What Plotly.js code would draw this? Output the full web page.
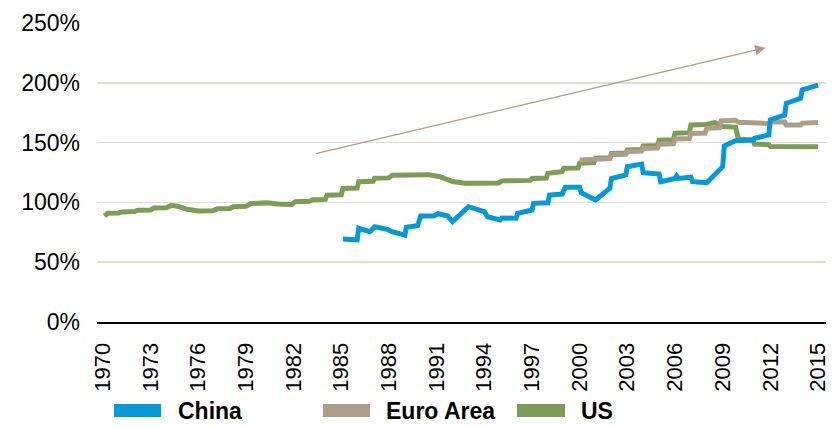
<!DOCTYPE html>
<html>
<head>
<meta charset="utf-8">
<script src="https://cdn.plot.ly/plotly-3.0.1.min.js"></script>
<style>
html,body{margin:0;padding:0;background:#fff;}
#chart{width:834px;height:427px;}
</style>
</head>
<body>
<div id="chart"></div>
<script>
// ---- data ----
const seriesNames = ["China", "Euro Area", "US"];

const usYears = [1970.1,1970.3,1971.0,1971.2,1972.0,1972.2,1973.0,1973.2,1974.0,1974.3,1974.8,1975.3,1976.0,1976.9,1977.2,1978.0,1978.2,1979.0,1979.3,1980.3,1981.0,1981.9,1982.1,1983.0,1983.2,1984.0,1984.1,1985.0,1985.1,1986.0,1986.1,1987.0,1987.1,1988.0,1988.2,1989.7,1990.5,1991.2,1992.0,1992.8,1994.9,1995.1,1996.9,1997.0,1997.9,1998.0,1998.9,1999.0,1999.9,2000.0,2000.9,2001.0,2001.9,2002.0,2002.9,2003.0,2003.9,2004.0,2004.9,2005.0,2005.9,2006.0,2006.9,2007.0,2008.0,2008.5,2009.0,2009.8,2009.9,2010.0,2010.9,2011.0,2011.9,2012.0,2015.0];
const usValues = [88.6,90.9,91.2,92.0,92.3,93.4,93.6,95.3,95.6,97.5,96.5,94.2,92.8,93.0,94.6,94.9,96.4,96.7,99.0,99.6,98.6,98.3,100.6,100.9,102.2,102.5,106.0,106.3,111.6,112.0,117.3,117.6,120.2,120.5,122.8,123.6,123.2,121.5,117.5,116.0,116.3,118.0,118.4,120.0,120.4,124.3,125.7,128.5,128.8,132.7,133.2,136.9,137.3,141.0,141.4,143.8,144.3,147.2,147.6,152.0,152.4,157.8,158.3,164.8,165.2,166.7,163.5,163.0,155.0,152.7,152.2,148.8,148.3,146.8,146.6];

const euroYears = [2000.0,2000.8,2000.9,2001.9,2002.0,2002.9,2003.0,2003.9,2004.0,2004.9,2005.0,2005.9,2006.0,2006.9,2007.0,2007.9,2008.0,2008.8,2008.9,2009.8,2010.0,2010.9,2011.0,2011.9,2012.0,2012.9,2013.0,2013.9,2014.0,2015.0];
const euroValues = [135.4,135.6,136.3,136.6,139.8,140.2,142.6,143.0,145.0,145.4,148.6,149.0,153.0,153.4,157.6,158.0,162.0,162.4,168.2,168.6,167.0,166.8,166.0,166.0,167.4,167.2,164.7,164.7,166.2,166.8];

const chinaYears = [1985.1,1986.0,1986.1,1986.8,1987.1,1987.9,1988.2,1989.0,1989.1,1989.8,1990.0,1990.8,1991.1,1991.7,1992.0,1993.0,1994.0,1994.2,1995.0,1995.1,1996.0,1996.1,1997.0,1997.1,1998.0,1998.1,1998.9,1999.1,2000.0,2000.1,2001.0,2001.9,2002.0,2002.9,2003.0,2003.9,2004.0,2005.0,2005.1,2006.0,2006.1,2006.2,2007.0,2007.1,2008.0,2009.0,2009.1,2009.8,2010.9,2011.0,2011.9,2012.0,2012.9,2013.0,2013.9,2014.0,2015.0];
const chinaValues = [69.4,68.6,78.3,75.5,79.7,77.5,75.5,72.7,79.2,80.5,88.6,88.6,90.5,88.6,84.0,96.4,92.2,88.0,85.3,87.0,86.7,90.9,93.6,99.2,99.7,106.2,107.0,112.6,112.6,108.0,102.0,111.8,120.0,122.9,129.8,132.0,124.8,123.7,117.3,120.0,122.0,120.0,121.0,117.3,116.5,129.8,147.2,151.6,152.2,153.6,156.4,169.0,173.0,182.9,187.0,194.0,198.0];

const tickYears = [1970,1973,1976,1979,1982,1985,1988,1991,1994,1997,2000,2003,2006,2009,2012,2015];
const yTicks = [0,50,100,150,200,250];

// ---- styling ----
const colors = {"China":"#0798d8","Euro Area":"#ad9e8c","US":"#7c9c57"};
const FONT = "Liberation Sans, Arial, sans-serif";

const traces = [
  {x: usYears, y: usValues, name: "US", type: "scatter", mode: "lines",
   line: {color: colors["US"], width: 5}},
  {x: euroYears, y: euroValues, name: "Euro Area", type: "scatter", mode: "lines",
   line: {color: colors["Euro Area"], width: 5}},
  {x: chinaYears, y: chinaValues, name: "China", type: "scatter", mode: "lines",
   line: {color: colors["China"], width: 5}}
];

// manual legend (paper coords, plot width 729px)
const legendX = {"China":[0.0233,0.0878,0.1084], "Euro Area":[0.3100,0.3745,0.3937], "US":[0.5761,0.6420,0.6612]};
const shapes = [];
const annotations = [];
seriesNames.forEach(n => {
  const p = legendX[n];
  shapes.push({type:"rect", xref:"paper", yref:"paper", x0:p[0], x1:p[1], y0:-0.3177, y1:-0.2742,
    fillcolor: colors[n], line:{width:0}});
  annotations.push({xref:"paper", yref:"paper", x:p[2], y:-0.2977, xanchor:"left", yanchor:"middle",
    text:"<b>"+n+"</b>", showarrow:false, font:{family:FONT, size:23, color:"#000"}});
});
// trend arrow
annotations.push({x:2011.7, y:229.3, ax:1983.3, ay:140.5, xref:"x", yref:"y", axref:"x", ayref:"y",
  text:"", showarrow:true, arrowhead:2, arrowsize:1.6, arrowwidth:1.3, arrowcolor:"#ab9c8a"});

const layout = {
  width: 834, height: 427,
  margin: {l: 97, r: 8, t: 23, b: 105, pad: 0},
  paper_bgcolor: "#fff", plot_bgcolor: "#fff",
  showlegend: false,
  font: {family: FONT, size: 23, color: "#000"},
  xaxis: {
    range: [1969.63, 2015.5],
    tickmode: "array", tickvals: tickYears, ticktext: tickYears.map(String),
    tickangle: -90, ticks: "", showgrid: false, zeroline: false,
    showline: true, linecolor: "#000", linewidth: 2,
    ticklabelstandoff: 10, ticklabeloverflow: "allow",
    tickfont: {family: FONT, size: 22, color: "#000"}
  },
  yaxis: {
    range: [0, 250],
    tickmode: "array", tickvals: yTicks, ticktext: yTicks.map(v => v + "%"),
    ticks: "", showgrid: true, gridcolor: "#e4ddd4", gridwidth: 1.5,
    zeroline: false, showline: false,
    ticklabelstandoff: 16,
    tickfont: {family: FONT, size: 23, color: "#000"}
  },
  shapes: shapes,
  annotations: annotations
};

Plotly.newPlot("chart", traces, layout, {staticPlot: true, displayModeBar: false});
</script>
</body>
</html>
